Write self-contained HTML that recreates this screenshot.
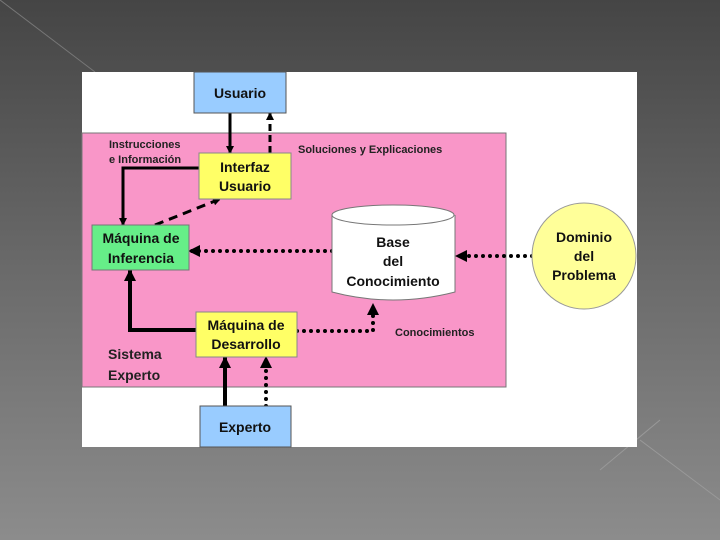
<!DOCTYPE html>
<html><head><meta charset="utf-8"><style>
body{margin:0;width:720px;height:540px;overflow:hidden;background:linear-gradient(#454545,#6a6a6a 50%,#8c8c8c);font-family:"Liberation Sans",sans-serif}
</style></head><body>
<svg width="720" height="540" style="position:absolute;left:0;top:0" font-family="Liberation Sans, sans-serif" font-weight="bold">
<defs><marker id="a" markerWidth="8" markerHeight="8" refX="7" refY="4" orient="auto" markerUnits="userSpaceOnUse"><path d="M0,0L8,4L0,8z" fill="#000"/></marker>
<marker id="b" markerWidth="12" markerHeight="12" refX="11" refY="6" orient="auto" markerUnits="userSpaceOnUse"><path d="M0,0L12,6L0,12z" fill="#000"/></marker></defs>
<line x1="0" y1="0" x2="95" y2="72" stroke="#777" stroke-width="1"/>
<line x1="640" y1="440" x2="720" y2="500" stroke="#999"/>
<line x1="600" y1="470" x2="660" y2="420" stroke="#999"/>
<rect x="82" y="72" width="555" height="375" fill="#fff"/>
<rect x="82" y="133" width="424" height="254" fill="#f996c8" stroke="#777" stroke-width="1"/>
<text x="109" y="148" font-size="11" fill="#222">Instrucciones</text>
<text x="109" y="163" font-size="11" fill="#222">e Información</text>
<text x="298" y="153" font-size="11" fill="#222">Soluciones y Explicaciones</text>
<text x="395" y="336" font-size="11" fill="#222">Conocimientos</text>
<text x="108" y="359" font-size="14" fill="#222">Sistema</text>
<text x="108" y="380" font-size="14" fill="#222">Experto</text>
<g stroke="#000" stroke-width="3" fill="none">
<line x1="230" y1="113" x2="230" y2="153" marker-end="url(#a)"/>
<line x1="270" y1="153" x2="270" y2="113" stroke-dasharray="7,4" marker-end="url(#a)"/>
<polyline points="199,168 123,168 123,225" marker-end="url(#a)"/>
<line x1="155" y1="225" x2="220" y2="199" stroke-dasharray="9,6" marker-end="url(#a)"/>
<line x1="332" y1="251" x2="189" y2="251" stroke-dasharray="0,7" stroke-linecap="round" stroke-width="4" marker-end="url(#b)"/>
<line x1="532" y1="256" x2="456" y2="256" stroke-dasharray="0,7" stroke-linecap="round" stroke-width="4" marker-end="url(#b)"/>
<polyline points="196,330 130,330 130,270" stroke-width="4" marker-end="url(#b)"/>
<polyline points="297,331 373,331 373,304" stroke-dasharray="0,7" stroke-linecap="round" stroke-width="4" marker-end="url(#b)"/>
<line x1="225" y1="406" x2="225" y2="357" stroke-width="4" marker-end="url(#b)"/>
<line x1="266" y1="406" x2="266" y2="357" stroke-dasharray="0,7" stroke-linecap="round" stroke-width="4" marker-end="url(#b)"/>
</g>
<rect x="194" y="72" width="92" height="41" fill="#99ccff" stroke="#555"/>
<text x="240" y="98" font-size="14" text-anchor="middle" fill="#111">Usuario</text>
<rect x="199" y="153" width="92" height="46" fill="#ffff66" stroke="#888"/>
<text x="245" y="172" font-size="14" text-anchor="middle" fill="#111">Interfaz</text>
<text x="245" y="191" font-size="14" text-anchor="middle" fill="#111">Usuario</text>
<rect x="92" y="225" width="97" height="45" fill="#66ee88" stroke="#777"/>
<text x="141" y="243" font-size="14" text-anchor="middle" fill="#111">Máquina de</text>
<text x="141" y="263" font-size="14" text-anchor="middle" fill="#111">Inferencia</text>
<path d="M332,215 L332,292 Q393,308 455,292 L455,215" fill="#fff" stroke="#777"/>
<ellipse cx="393" cy="215" rx="61" ry="10" fill="#fff" stroke="#777"/>
<text x="393" y="247" font-size="14" text-anchor="middle" fill="#111">Base</text>
<text x="393" y="266" font-size="14" text-anchor="middle" fill="#111">del</text>
<text x="393" y="286" font-size="14" text-anchor="middle" fill="#111">Conocimiento</text>
<ellipse cx="584" cy="256" rx="52" ry="53" fill="#ffff99" stroke="#999"/>
<text x="584" y="242" font-size="14" text-anchor="middle" fill="#111">Dominio</text>
<text x="584" y="261" font-size="14" text-anchor="middle" fill="#111">del</text>
<text x="584" y="280" font-size="14" text-anchor="middle" fill="#111">Problema</text>
<rect x="196" y="312" width="101" height="45" fill="#ffff66" stroke="#888"/>
<text x="246" y="330" font-size="14" text-anchor="middle" fill="#111">Máquina de</text>
<text x="246" y="349" font-size="14" text-anchor="middle" fill="#111">Desarrollo</text>
<rect x="200" y="406" width="91" height="41" fill="#99ccff" stroke="#555"/>
<text x="245" y="432" font-size="14" text-anchor="middle" fill="#111">Experto</text>
</svg>
</body></html>
